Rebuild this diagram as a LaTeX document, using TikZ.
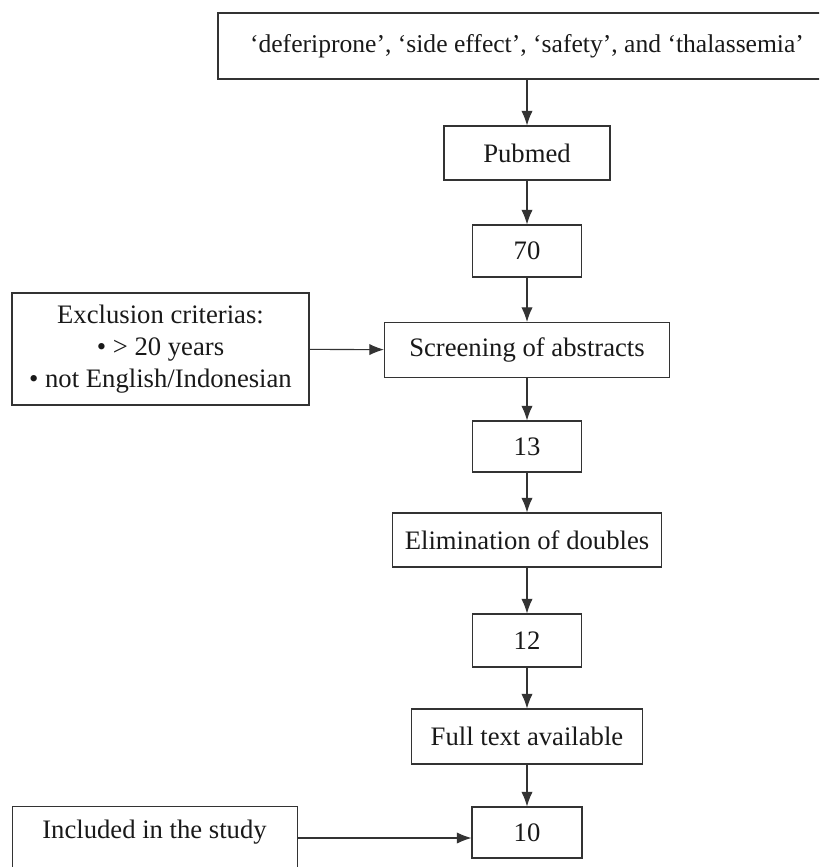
\documentclass[tikz,border=0pt]{standalone}
\usepackage{fontspec}
\setmainfont{Liberation Serif}
\usetikzlibrary{arrows.meta}
\begin{document}
\begin{tikzpicture}[x=0.75pt,y=-0.75pt,
  bx/.style={draw=black!80, line width=0.8pt, inner sep=0pt, font=\fontsize{20}{24}\selectfont, text=black!90},
  lbl/.style={inner sep=0pt, font=\fontsize{20}{24}\selectfont, text=black!90},
  arr/.style={draw=black!80, line width=0.8pt, -{Latex[length=11pt,width=8.5pt]}}]
\useasboundingbox (0,0) rectangle (819,867);
\clip (0,0) rectangle (819,867);
\node[bx, minimum width=463.5pt, minimum height=49.5pt, font=\fontsize{19.2}{23}\selectfont] (top) at (527,46) {‘deferiprone’, ‘side effect’, ‘safety’, and ‘thalassemia’};
\node[bx, minimum width=124.5pt, minimum height=40.5pt] (pub) at (527,153) {Pubmed};
\node[bx, minimum width=81.75pt, minimum height=39pt] (n70) at (527,251) {70};
\node[bx, minimum width=213.75pt, minimum height=41.25pt] (scr) at (527,350) {Screening of abstracts};
\node[bx, minimum width=81.75pt, minimum height=38.25pt] (n13) at (527,446.5) {13};
\node[bx, minimum width=201.75pt, minimum height=40.5pt] (elim) at (527,540) {Elimination of doubles};
\node[bx, minimum width=81.75pt, minimum height=39.75pt] (n12) at (527,640.5) {12};
\node[bx, minimum width=173.25pt, minimum height=41.25pt] (full) at (527,736.5) {Full text available};
\node[bx, minimum width=82.5pt, minimum height=38.25pt] (n10) at (527,832.5) {10};
\node[bx, minimum width=222.75pt, minimum height=84pt, align=center, font=\fontsize{20}{24}\selectfont] (excl) at (160.5,349) {Exclusion criterias:\\ \textbullet\ > 20 years\\ \textbullet\ not English/Indonesian};
\node[bx, anchor=north west, minimum width=213.75pt, minimum height=60pt] (inc) at (12,806) {};
\node[lbl] (inctext) at (154.5,832) {Included in the study};
\coordinate (incarr) at (297,838);
\draw[arr] (top) -- (pub);
\draw[arr] (pub) -- (n70);
\draw[arr] (n70) -- (scr);
\draw[arr] (scr) -- (n13);
\draw[arr] (n13) -- (elim);
\draw[arr] (elim) -- (n12);
\draw[arr] (n12) -- (full);
\draw[arr] (full) -- (n10);
\draw[arr] (excl) -- (scr);
\draw[arr] (incarr) -- (incarr -| n10.west);
\end{tikzpicture}
\end{document}
